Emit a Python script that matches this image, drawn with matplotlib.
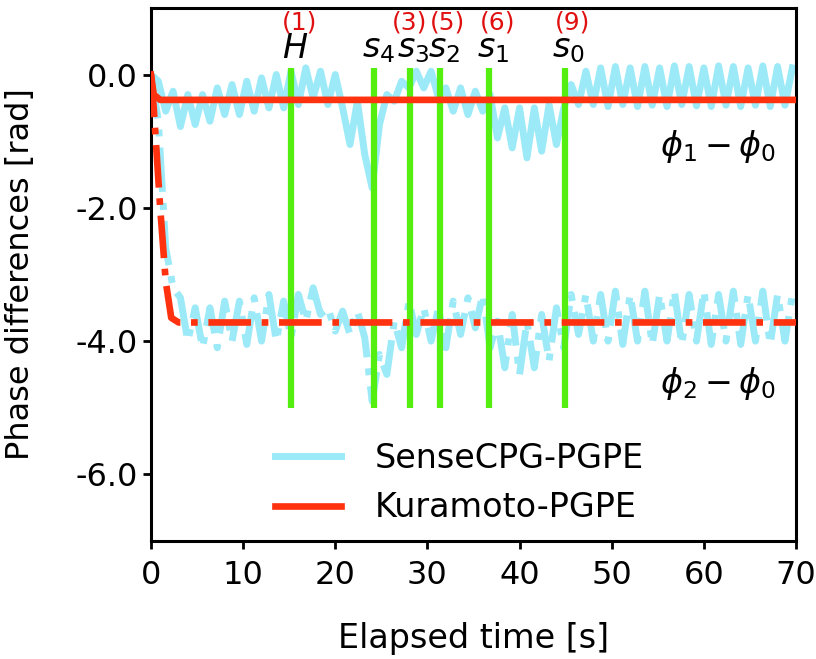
import numpy as np
import matplotlib
matplotlib.use('Agg')
import matplotlib.pyplot as plt

plt.rcParams['axes.unicode_minus'] = False

### data
# SenseCPG-PGPE, sampled every 0.8 s (peaks / troughs)
t_cpg = np.arange(0, 70.0, 0.8)
cpg_phi1 = [0.0, -0.1, -0.55, -0.25, -0.78, -0.3, -0.75, -0.3, -0.7, -0.2,
            -0.6, -0.15, -0.6, -0.1, -0.55, -0.05, -0.5, 0.0, -0.5, 0.05,
            -0.45, 0.1, -0.35, 0.05, -0.45, 0.0, -0.5, -1.05, -0.4, -1.2,
            -1.7, -0.75, -0.3, -0.4, -0.1, -0.2, 0.05, -0.2, 0.05, -0.35,
            -0.2, -0.55, -0.2, -0.6, -0.25, -0.55, -0.3, -0.95, -0.5, -1.1,
            -0.5, -1.25, -0.5, -1.15, -0.45, -1.05, -0.5, -0.15, -0.45, 0.05,
            -0.45, 0.1, -0.48, 0.12, -0.45, 0.1, -0.48, 0.12, -0.46, 0.1,
            -0.48, 0.13, -0.45, 0.12, -0.47, 0.1, -0.48, 0.13, -0.46, 0.12,
            -0.48, 0.1, -0.46, 0.13, -0.48, 0.12, -0.46, 0.1]
cpg_phi2 = [0.0, -0.7, -2.6, -3.2, -3.35, -4.0, -3.5, -4.1, -3.5, -4.1,
            -3.4, -4.0, -3.4, -4.05, -3.35, -4.0, -3.3, -4.0, -3.4, -3.95,
            -3.3, -3.7, -3.2, -3.6, -3.5, -3.85, -3.55, -3.9, -3.55, -3.95,
            -4.9, -4.2, -4.5, -3.7, -4.1, -3.4, -3.9, -3.5, -4.0, -3.5,
            -4.1, -3.4, -3.9, -3.35, -3.8, -3.3, -4.1, -3.7, -4.4, -3.6,
            -4.5, -3.7, -4.4, -3.6, -4.3, -3.5, -4.1, -3.3, -3.9, -3.3,
            -4.0, -3.3, -4.0, -3.25, -4.05, -3.3, -4.0, -3.25, -4.05, -3.3,
            -4.0, -3.25, -4.05, -3.3, -4.0, -3.25, -4.05, -3.3, -4.0, -3.25,
            -4.05, -3.3, -4.0, -3.25, -4.05, -3.3, -4.0, -3.3]

# Kuramoto-PGPE
t_kura = [0.0, 0.3, 1.0, 1.6, 2.2, 3.0, 70.0]
kura_phi1 = [0.0, -0.3, -0.38, -0.38, -0.38, -0.38, -0.38]
kura_phi2 = [0.0, -0.5, -2.0, -3.1, -3.65, -3.72, -3.72]

# events
event_t = [15.2, 24.25, 28.1, 31.35, 36.7, 44.9]
event_names = ['$H$', '$s_4$', '$s_3$', '$s_2$', '$s_1$', '$s_0$']
event_nums = ['(1)', '', '(3)', '(5)', '(6)', '(9)']

yticks = [0, -2, -4, -6]
xticks = [0, 10, 20, 30, 40, 50, 60, 70]

c_cpg = '#9ceaf8'
c_kura = '#ff3210'
c_event = '#55ee11'

fig = plt.figure(figsize=(8.16, 6.59), dpi=100)
ax = fig.add_axes([0.185, 0.179, 0.7905, 0.809])

l1, = ax.plot(t_cpg, cpg_phi1, color=c_cpg, lw=5, zorder=1, label='SenseCPG-PGPE')
ax.plot(t_cpg, cpg_phi2, color=c_cpg, lw=5, ls='-.', zorder=1)

ax.vlines(event_t, -5.0, 0.1, color=c_event, lw=4.5, zorder=2)

l2, = ax.plot(t_kura, kura_phi1, color=c_kura, lw=4.8, zorder=3, label='Kuramoto-PGPE')
ax.plot(t_kura, kura_phi2, color=c_kura, lw=4.8, ls='-.', zorder=3)

# the (3) label sits right over its line, the others a bit to the right
num_shift = [0.9, 0, 0.0, 0.8, 0.9, 0.9]
for t, name, num, dx in zip(event_t, event_names, event_nums, num_shift):
    ax.text(t + 0.4, 0.14, name, ha='center', va='bottom', fontsize=24)
    if num:
        ax.text(t + dx, 0.6, num, ha='center', va='bottom', fontsize=18, color='#e01010')

ax.text(61.5, -1.08, r'$\phi_1 - \phi_0$', ha='center', va='center', fontsize=24)
ax.text(61.5, -4.63, r'$\phi_2 - \phi_0$', ha='center', va='center', fontsize=24)

ax.set_xlim(0, 70)
ax.set_ylim(-7, 1)
ax.set_xticks(xticks)
ax.set_yticks(yticks)
ax.set_yticklabels(['%.1f' % v for v in yticks])
ax.tick_params(labelsize=23, length=6, width=2)
ax.tick_params(axis='x', pad=8)
for s in ax.spines.values():
    s.set_linewidth(2.2)

ax.set_xlabel('Elapsed time [s]', fontsize=24, labelpad=22)
ax.set_ylabel('Phase differences [rad]', fontsize=23, labelpad=28)

fig.legend(handles=[l1, l2], loc='upper left', bbox_to_anchor=(0.316, 0.355),
           frameon=False, fontsize=24, borderpad=0, handlelength=2.0,
           handletextpad=1.0, labelspacing=0.5)

fig.savefig('out.png', dpi=100)
